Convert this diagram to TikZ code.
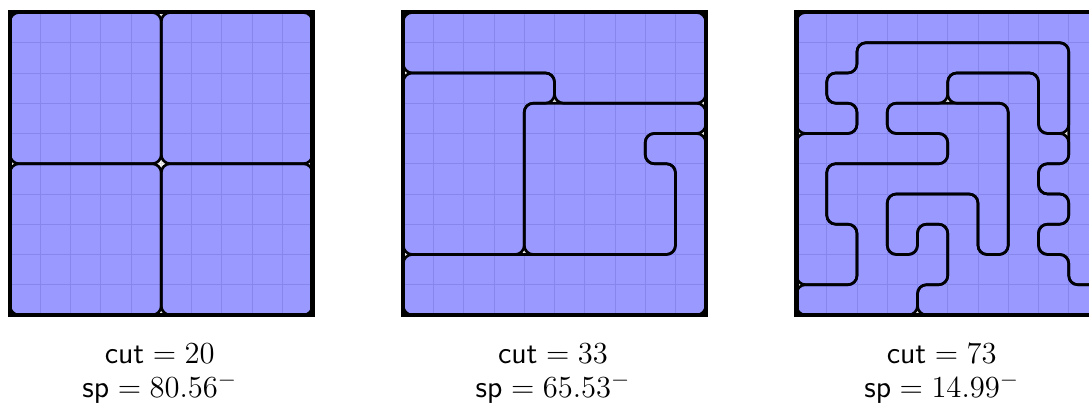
\documentclass[tikz,border=0pt]{standalone}
\usepackage{amsmath,amssymb}
\usepackage{xcolor}
\usepackage{tikz}
\definecolor{CutBlue}{HTML}{0000FF}
\definecolor{CutGrid}{HTML}{E0E0E0}
\definecolor{CutDark}{HTML}{000000}

\begin{document}
\begin{tikzpicture}[x=0.5cm,y=0.5cm,
  cutregion/.style={fill=CutBlue,fill opacity=0.4,draw=CutDark,line width=1.25pt,rounded corners=0.15cm},
  gridline/.style={draw=CutGrid,line width=0.45pt},
  panelframe/.style={draw=CutDark,line width=1.9pt},
  score/.style={anchor=base,inner sep=0pt,font=\fontsize{15.8}{17}\selectfont}]
\useasboundingbox (-0.33,-2.94) rectangle (35.67,10.413);
\clip (-0.33,-2.94) rectangle (35.67,10.413);
% four quarters
\begin{scope}
\draw[gridline,step=1] (0,0) grid (10,10);
\path[cutregion] (0,5) rectangle (5,10);
\path[cutregion] (5,5) rectangle (10,10);
\path[cutregion] (0,0) rectangle (5,5);
\path[cutregion] (5,0) rectangle (10,5);
\draw[panelframe] (0,0) rectangle (10,10);
\node[score] (cutA) at (4.95,-1.62) {$\mathsf{cut} = 20$};
\node[score] (spA) at (4.95,-2.74) {$\mathsf{sp} = 80.56^-$};
\end{scope}
% middle partition
\begin{scope}[shift={(13,0)}]
\draw[gridline,step=1] (0,0) grid (10,10);
\path[cutregion] (5,10) -- (10,10) -- (10,7) -- (5,7) -- (5,8) -- (0,8) -- (0,10) -- cycle;
\path[cutregion] (2,8) -- (5,8) -- (5,7) -- (4,7) -- (4,2) -- (0,2) -- (0,8) -- cycle;
\path[cutregion] (6,7) -- (10,7) -- (10,6) -- (8,6) -- (8,5) -- (9,5) -- (9,2) -- (4,2) -- (4,7) -- cycle;
\path[cutregion] (5,0) -- (0,0) -- (0,2) -- (9,2) -- (9,5) -- (8,5) -- (8,6) -- (10,6) -- (10,0) -- cycle;
\draw[panelframe] (0,0) rectangle (10,10);
\node[score] (cutB) at (4.95,-1.62) {$\mathsf{cut} = 33$};
\node[score] (spB) at (4.95,-2.74) {$\mathsf{sp} = 65.53^-$};
\end{scope}
% wiggly partition
\begin{scope}[shift={(26,0)}]
\draw[gridline,step=1] (0,0) grid (10,10);
\path[cutregion] (5,10) -- (10,10) -- (10,1) -- (9,1) -- (9,2) -- (8,2) -- (8,3) -- (9,3) -- (9,4) -- (8,4) -- (8,5) -- (9,5)
  -- (9,9) -- (2,9) -- (2,8) -- (1,8) -- (1,7) -- (2,7) -- (2,6) -- (0,6) -- (0,10) -- cycle;
\path[cutregion] (1,6) -- (2,6) -- (2,7) -- (1,7) -- (1,8) -- (2,8) -- (2,9) -- (9,9) -- (9,6) -- (8,6) -- (8,8) -- (5,8)
  -- (5,7) -- (3,7) -- (3,6) -- (5,6) -- (5,5) -- (1,5) -- (1,3) -- (2,3) -- (2,1) -- (0,1) -- (0,6) -- cycle;
\path[cutregion] (6,8) -- (8,8) -- (8,6) -- (9,6) -- (9,5) -- (8,5) -- (8,4) -- (9,4) -- (9,3) -- (8,3) -- (8,2) -- (9,2)
  -- (9,1) -- (10,1) -- (10,0) -- (4,0) -- (4,1) -- (5,1) -- (5,3) -- (4,3) -- (4,2) -- (3,2) -- (3,4) -- (6,4)
  -- (6,2) -- (7,2) -- (7,7) -- (5,7) -- (5,8) -- cycle;
\path[cutregion] (4,7) -- (3,7) -- (3,6) -- (5,6) -- (5,5) -- (1,5) -- (1,3) -- (2,3) -- (2,1) -- (0,1) -- (0,0) -- (4,0)
  -- (4,1) -- (5,1) -- (5,3) -- (4,3) -- (4,2) -- (3,2) -- (3,4) -- (6,4) -- (6,2) -- (7,2) -- (7,7) -- (5,7) -- cycle;
\draw[panelframe] (0,0) rectangle (10,10);
\node[score] (cutC) at (4.8,-1.62) {$\mathsf{cut} = 73$};
\node[score] (spC) at (4.8,-2.74) {$\mathsf{sp} = 14.99^-$};
\end{scope}
\end{tikzpicture}
\end{document}
